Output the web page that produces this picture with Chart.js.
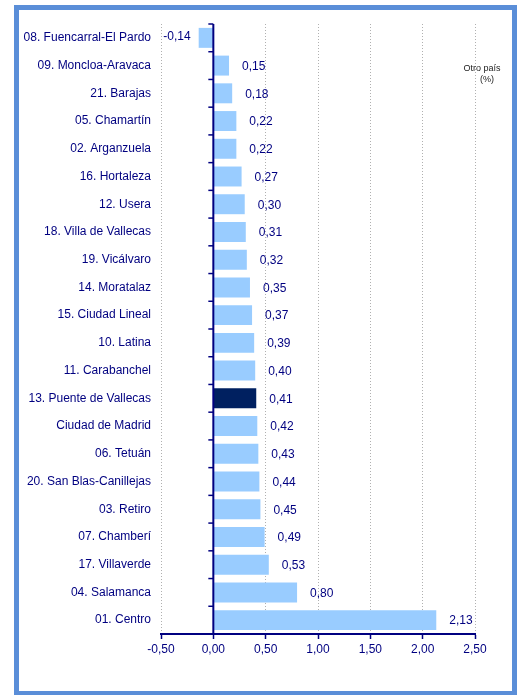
<!DOCTYPE html>
<html>
<head>
<meta charset="utf-8">
<script src="https://cdn.jsdelivr.net/npm/chart.js@4/dist/chart.umd.min.js"></script>
<style>
  html, body { margin: 0; padding: 0; background: #fff; overflow: hidden; }
  #frame { position: absolute; left: 14px; top: 5px; width: 493px; height: 681px; border: 5px solid #5a8ed8; }
  #wrap { position: absolute; left: 0; top: 0; width: 522px; height: 695px; }
</style>
</head>
<body>
<div id="frame"></div>
<div id="wrap"><canvas id="barras_cv"></canvas></div>
<script>
// datos
var distritos = [
  '08. Fuencarral-El Pardo', '09. Moncloa-Aravaca', '21. Barajas', '05. Chamartín',
  '02. Arganzuela', '16. Hortaleza', '12. Usera', '18. Villa de Vallecas',
  '19. Vicálvaro', '14. Moratalaz', '15. Ciudad Lineal', '10. Latina',
  '11. Carabanchel', '13. Puente de Vallecas', 'Ciudad de Madrid', '06. Tetuán',
  '20. San Blas-Canillejas', '03. Retiro', '07. Chamberí', '17. Villaverde',
  '04. Salamanca', '01. Centro'
];
var valores = [
  -0.14, 0.15, 0.18, 0.22, 0.22, 0.27, 0.30, 0.31, 0.32, 0.35, 0.37, 0.39,
  0.40, 0.41, 0.42, 0.43, 0.44, 0.45, 0.49, 0.53, 0.80, 2.13
];
var destacado = '13. Puente de Vallecas';
var ejeMin = -0.5, ejeMax = 2.5, ejePaso = 0.5;

var azul = '#000080';
var fuente = "'Liberation Sans', Arial, sans-serif";

function coma(v) { return v.toFixed(2).replace('.', ','); }

var colores = distritos.map(function (d) { return d === destacado ? '#002060' : '#99ccff'; });

var etiquetasPlugin = {
  id: 'etiquetas',
  afterDatasetsDraw: function (chart) {
    var ctx = chart.ctx;
    var xs = chart.scales.x;
    var area = chart.chartArea;
    var x0 = xs.getPixelForValue(0);
    ctx.save();
    // eje vertical en el cero
    ctx.strokeStyle = azul;
    ctx.lineWidth = 2;
    ctx.beginPath();
    ctx.moveTo(x0, area.top);
    ctx.lineTo(x0, area.bottom);
    ctx.stroke();
    var paso = (area.bottom - area.top) / distritos.length;
    ctx.lineWidth = 1.5;
    for (var i = 0; i < distritos.length; i++) {
      var yy = area.top + i * paso;
      ctx.beginPath();
      ctx.moveTo(x0 - 5, yy);
      ctx.lineTo(x0, yy);
      ctx.stroke();
    }
    // valores
    ctx.fillStyle = azul;
    ctx.font = '12px ' + fuente;
    ctx.textBaseline = 'middle';
    var meta = chart.getDatasetMeta(0);
    meta.data.forEach(function (bar, i) {
      var v = valores[i];
      if (v < 0) {
        ctx.textAlign = 'right';
        ctx.fillText(coma(v), bar.x - 8, bar.y - 1);
      } else {
        ctx.textAlign = 'left';
        ctx.fillText(coma(v), bar.x + 13, bar.y + 1);
      }
    });
    // titulo de la serie
    ctx.fillStyle = '#222';
    ctx.font = '9px ' + fuente;
    ctx.textAlign = 'center';
    ctx.fillText('Otro país', 482, 69);
    ctx.fillText('(%)', 487, 80);
    ctx.restore();
  }
};

var chart = new Chart(document.getElementById('barras_cv'), {
  type: 'bar',
  data: {
    labels: distritos,
    datasets: [{
      label: 'Otro país (%)',
      data: valores,
      backgroundColor: colores,
      borderWidth: 0,
      barPercentage: 0.72,
      categoryPercentage: 1
    }]
  },
  options: {
    indexAxis: 'y',
    responsive: true,
    maintainAspectRatio: false,
    animation: false,
    layout: { padding: { left: 0, top: 24, right: 47, bottom: 0 } },
    plugins: {
      legend: { display: false },
      tooltip: { enabled: false }
    },
    scales: {
      x: {
        min: ejeMin,
        max: ejeMax,
        afterFit: function (s) { s.height = 61; },
        ticks: {
          stepSize: ejePaso,
          color: azul,
          font: { size: 12, family: fuente },
          padding: 3,
          callback: function (v) { return coma(v); }
        },
        grid: {
          color: function (c) { return c.tick && c.tick.value === 0 ? 'rgba(0,0,0,0)' : '#b0b0b0'; },
          lineWidth: 1,
          tickColor: azul,
          tickLength: 5,
          tickWidth: 1.5
        },
        border: { display: true, color: azul, width: 2, dash: [1, 2] }
      },
      y: {
        afterFit: function (s) { s.width = 161; },
        grid: { display: false, drawTicks: false },
        border: { display: false },
        ticks: {
          color: azul,
          font: { size: 12, family: fuente },
          padding: 10,
          autoSkip: false
        }
      }
    }
  },
  plugins: [etiquetasPlugin]
});
</script>
</body>
</html>
